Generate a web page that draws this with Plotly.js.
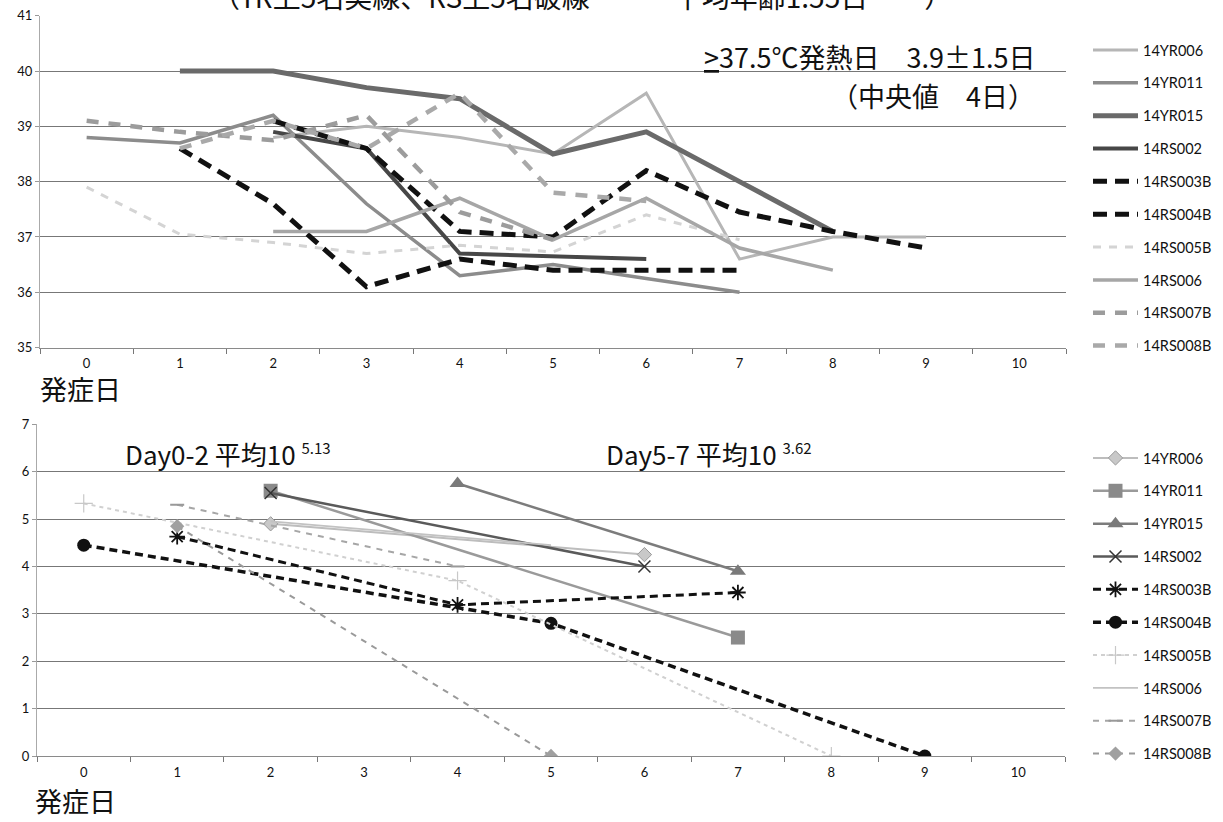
<!DOCTYPE html>
<html><head><meta charset="utf-8">
<script src="https://cdn.plot.ly/plotly-3.0.1.min.js"></script>
<style>html,body{margin:0;padding:0;background:#fff;} #chart{width:1223px;height:822px;}</style>
</head><body><div id="chart"></div>
<script>
// ---------- data ----------
const days = [0,1,2,3,4,5,6,7,8,9,10];
const dayLabels = ['0','1','2','3','4','5','6','7','8','9','10'];
const seriesNames = ['14YR006','14YR011','14YR015','14RS002','14RS003B','14RS004B','14RS005B','14RS006','14RS007B','14RS008B'];

// top chart: body temperature (°C)
const temp_14YR006  = [null,null,38.8,39.0,38.8,38.5,39.6,36.6,37.0,37.0,null];
const temp_14YR011  = [38.8,38.7,39.2,37.6,36.3,36.5,36.25,36.0,null,null,null];
const temp_14YR015  = [null,40.0,40.0,39.7,39.5,38.5,38.9,38.0,37.1,null,null];
const temp_14RS002  = [null,null,38.9,38.6,36.7,36.65,36.6,null,null,null,null];
const temp_14RS003B = [null,38.6,37.6,36.1,36.6,36.4,36.4,36.4,null,null,null];
const temp_14RS004B = [null,null,39.1,38.6,37.1,37.0,38.2,37.45,37.1,36.8,null];
const temp_14RS005B = [37.9,37.05,36.9,36.7,36.85,36.73,37.4,36.95,null,null,null];
const temp_14RS006  = [null,null,37.1,37.1,37.7,36.95,37.7,36.8,36.4,null,null];
const temp_14RS007B = [39.1,38.9,38.75,39.2,37.45,36.95,null,null,null,null,null];
const temp_14RS008B = [null,38.6,39.1,38.6,39.6,37.8,37.65,null,null,null,null];

// bottom chart: virus titre (log10)
const load_14YR006  = [null,null,4.9,null,null,null,4.25,null,null,null,null];
const load_14YR011  = [null,null,5.6,null,null,null,null,2.5,null,null,null];
const load_14YR015  = [null,null,null,null,5.75,null,null,3.9,null,null,null];
const load_14RS002  = [null,null,5.55,null,null,null,4.0,null,null,null,null];
const load_14RS003B = [null,4.63,null,null,3.19,null,null,3.45,null,null,null];
const load_14RS004B = [4.45,null,null,null,null,2.8,null,null,null,0,null];
const load_14RS005B = [5.33,null,null,null,3.7,null,null,null,0,null,null];
const load_14RS006  = [null,null,4.95,null,null,4.45,null,null,null,null,null];
const load_14RS007B = [null,5.3,null,null,4.0,null,null,null,null,null,null];
const load_14RS008B = [null,4.85,null,null,null,0,null,null,null,null,null];

const tempData = [temp_14YR006,temp_14YR011,temp_14YR015,temp_14RS002,temp_14RS003B,temp_14RS004B,temp_14RS005B,temp_14RS006,temp_14RS007B,temp_14RS008B];
const loadData = [load_14YR006,load_14YR011,load_14YR015,load_14RS002,load_14RS003B,load_14RS004B,load_14RS005B,load_14RS006,load_14RS007B,load_14RS008B];

// ---------- styles ----------
const topStyle = [
  {color:'#b6b6b6', width:3,   dash:'solid'},
  {color:'#8c8c8c', width:3.5, dash:'solid'},
  {color:'#6a6a6a', width:5,   dash:'solid'},
  {color:'#474747', width:4,   dash:'solid'},
  {color:'#111111', width:5,   dash:'14px,8px'},
  {color:'#111111', width:5,   dash:'14px,8px'},
  {color:'#d4d4d4', width:3,   dash:'8px,8px'},
  {color:'#a6a6a6', width:3.5, dash:'solid'},
  {color:'#9c9c9c', width:4.5, dash:'12px,10px'},
  {color:'#a9a9a9', width:4.5, dash:'12px,10px'}
];
const botStyle = [
  {line:{color:'#bdbdbd', width:2,   dash:'solid'}, marker:{symbol:'diamond', size:11, color:'#c8c8c8', line:{color:'#999',width:1}}},
  {line:{color:'#9a9a9a', width:2.5, dash:'solid'}, marker:{symbol:'square', size:14, color:'#8a8a8a'}},
  {line:{color:'#7c7c7c', width:2.5, dash:'solid'}, marker:{symbol:'triangle-up', size:14, color:'#7a7a7a'}},
  {line:{color:'#5a5a5a', width:2.5, dash:'solid'}, marker:{symbol:'x-thin-open', size:12, color:'#333', line:{color:'#333',width:1.5}}},
  {line:{color:'#111111', width:3,   dash:'8px,5px'}, marker:{symbol:'asterisk-open', size:13, color:'#111', line:{color:'#111',width:1.8}}},
  {line:{color:'#111111', width:3.5, dash:'8px,5px'}, marker:{symbol:'circle', size:13, color:'#111'}},
  {line:{color:'#d0d0d0', width:2,   dash:'4px,4px'}, marker:{symbol:'cross-thin-open', size:13, color:'#c8c8c8', line:{color:'#c8c8c8',width:1.2}}},
  {line:{color:'#c2c2c2', width:1.8, dash:'solid'}, marker:null},
  {line:{color:'#a6a6a6', width:2,   dash:'6px,6px'}, marker:{symbol:'line-ew-open', size:10, color:'#999', line:{color:'#999',width:2}}},
  {line:{color:'#9a9a9a', width:2,   dash:'6px,6px'}, marker:{symbol:'diamond', size:11, color:'#a0a0a0'}}
];

const traces = [];
seriesNames.forEach((nm,i)=>{
  traces.push({
    x: days, y: tempData[i], name: nm, type:'scatter', mode:'lines',
    xaxis:'x', yaxis:'y', legend:'legend', legendgroup:'t'+i,
    line: topStyle[i], connectgaps:false
  });
});
seriesNames.forEach((nm,i)=>{
  const st = botStyle[i];
  const tr = {
    x: days, y: loadData[i], name: nm, type:'scatter',
    mode: st.marker ? 'lines+markers' : 'lines',
    xaxis:'x2', yaxis:'y2', legend:'legend2', legendgroup:'b'+i,
    line: st.line, connectgaps:true
  };
  if (st.marker) tr.marker = st.marker;
  traces.push(tr);
});

// ---------- layout ----------
const W = 1223, H = 822;
const px = v => v / W;
const py = v => 1 - v / H;
const tickFont = {family:'Lato, "Open Sans", sans-serif', size:13, color:'#111'};
const jp = '"Noto Sans CJK JP", sans-serif';

const xCommon = {
  range:[-0.5,10.5], tickvals: days, ticktext: dayLabels, ticks:'',
  showgrid:false, zeroline:false, showline:true, linecolor:'#8a8a8a', linewidth:1,
  tickfont: tickFont, fixedrange:true, ticklabelstandoff:4,
  minor:{tick0:0.5, dtick:1, ticks:'outside', ticklen:5, tickcolor:'#777', showgrid:false}
};
const yCommon = {
  dtick:1, showgrid:true, gridcolor:'#777', gridwidth:1, zeroline:false,
  showline:true, linecolor:'#aaaaaa', linewidth:1, ticks:'outside', ticklen:4, tickcolor:'#999',
  tickfont: tickFont, fixedrange:true
};
const legFont = {family:'Lato, sans-serif', size:14.5, color:'#111'};

const layout = {
  width:W, height:H, margin:{l:0,r:0,t:0,b:0},
  paper_bgcolor:'#fff', plot_bgcolor:'#fff', showlegend:true,
  xaxis: Object.assign({}, xCommon, {domain:[px(40), px(1066)], anchor:'y'}),
  yaxis: Object.assign({}, yCommon, {domain:[py(347.6), py(15.7)], range:[35,41], anchor:'x'}),
  xaxis2: Object.assign({}, xCommon, {domain:[px(37), px(1065)], anchor:'y2'}),
  yaxis2: Object.assign({}, yCommon, {domain:[py(756), py(424.3)], range:[0,7], anchor:'x2'}),
  legend: {x:px(1088), y:py(34), xanchor:'left', yanchor:'top', bgcolor:'rgba(0,0,0,0)',
           font:legFont, tracegroupgap:11, itemwidth:45},
  legend2:{x:px(1088), y:py(442), xanchor:'left', yanchor:'top', bgcolor:'rgba(0,0,0,0)',
           font:legFont, tracegroupgap:11, itemwidth:45},
  annotations:[
    {text:'（YR上5名実線、RS上5名破線　ー　平均年齢1.55日　ー）', xref:'paper', yref:'paper',
     x:px(582), y:py(-4), xanchor:'center', yanchor:'middle', showarrow:false,
     font:{family:jp, size:28, color:'#111'}},
    {text:'<u>></u>37.5℃発熱日　3.9±1.5日', xref:'paper', yref:'paper',
     x:px(1037), y:py(56), xanchor:'right', yanchor:'middle', showarrow:false,
     font:{family:jp, size:27, color:'#111'}},
    {text:'（中央値　4日）', xref:'paper', yref:'paper',
     x:px(1037), y:py(96), xanchor:'right', yanchor:'middle', showarrow:false,
     font:{family:jp, size:27, color:'#111'}},
    {text:'発症日', xref:'paper', yref:'paper',
     x:px(38), y:py(389), xanchor:'left', yanchor:'middle', showarrow:false,
     font:{family:jp, size:27, color:'#111'}},
    {text:'発症日', xref:'paper', yref:'paper',
     x:px(33), y:py(800), xanchor:'left', yanchor:'middle', showarrow:false,
     font:{family:jp, size:27, color:'#111'}},
    {text:'Day0-2 平均10 <sup><span style="font-size:15px">5.13</span></sup>', xref:'paper', yref:'paper',
     x:px(123), y:py(453), xanchor:'left', yanchor:'middle', showarrow:false,
     font:{family:jp, size:26, color:'#111'}},
    {text:'Day5-7 平均10 <sup><span style="font-size:15px">3.62</span></sup>', xref:'paper', yref:'paper',
     x:px(604), y:py(453), xanchor:'left', yanchor:'middle', showarrow:false,
     font:{family:jp, size:26, color:'#111'}}
  ]
};

Plotly.newPlot('chart', traces, layout, {displayModeBar:false, staticPlot:true});
</script>
</body></html>
